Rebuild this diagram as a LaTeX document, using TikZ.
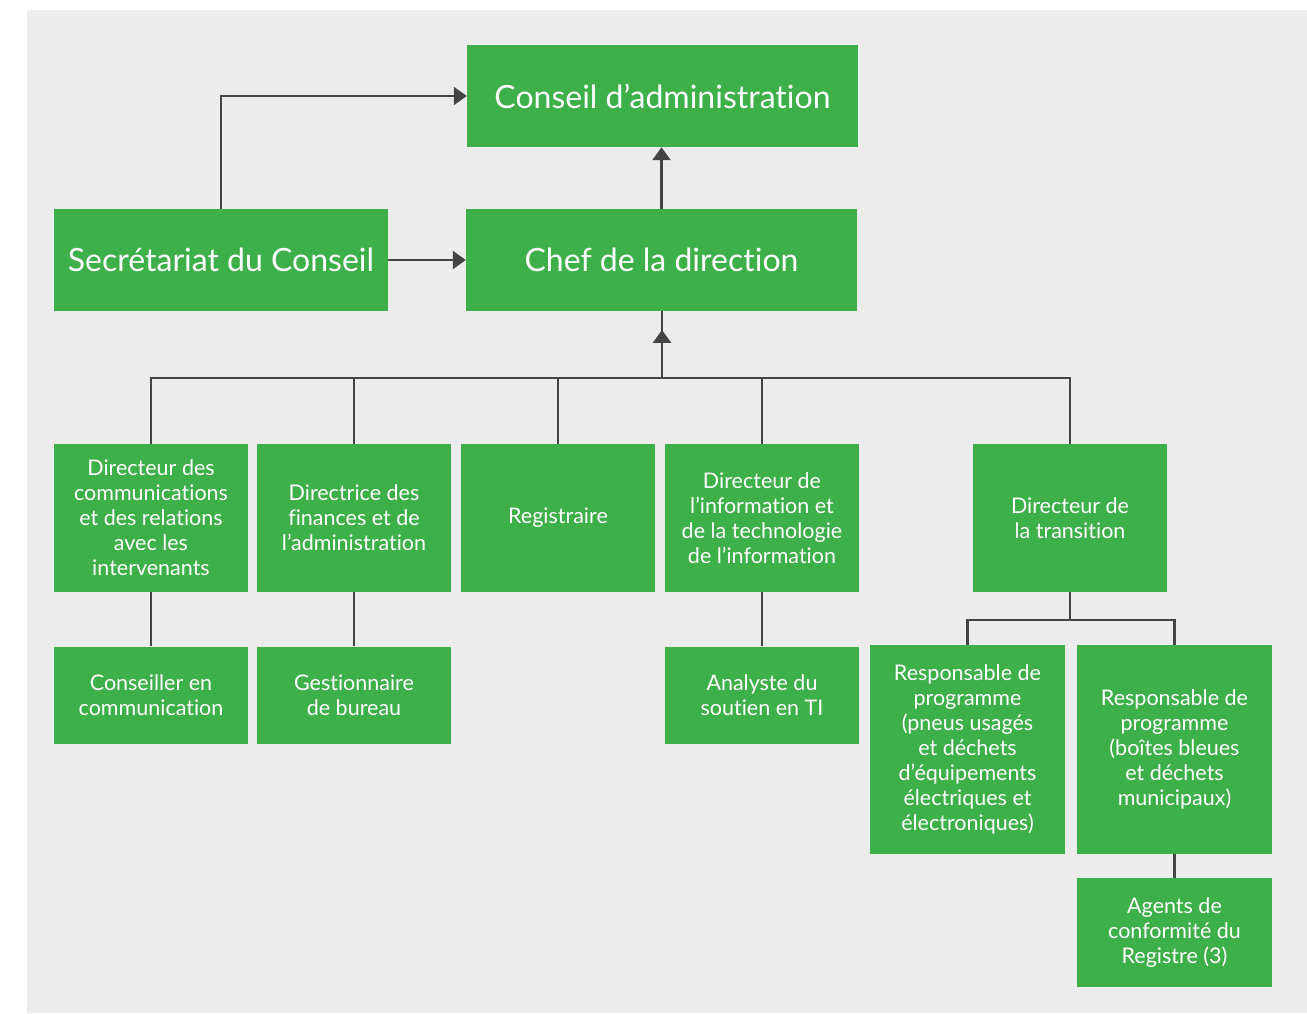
\documentclass[tikz,border=0pt]{standalone}
\usepackage{fontspec}
\setmainfont{Lato}[Ligatures={NoCommon,NoRare}]
\usetikzlibrary{arrows.meta,decorations.markings}
\definecolor{boxgreen}{HTML}{3EB049}
\definecolor{bggray}{HTML}{ECECEC}
\definecolor{linegray}{HTML}{444444}
\tikzset{
  box/.style={fill=boxgreen, text=white, inner sep=0pt, align=center,
    font=\fontsize{21.5}{25}\selectfont},
  bigbox/.style={box, font=\fontsize{32}{36}\selectfont},
  conn/.style={draw=linegray, line width=2.4pt},
  arr/.style={conn, -{Triangle[length=13pt,width=18pt]}},
  midarrow/.style={decoration={markings,
      mark=at position 0.72 with {\arrow{Triangle[length=13pt,width=18pt]}}},
    postaction=decorate},
}
\begin{document}
\begin{tikzpicture}[x=1pt,y=-1pt]
\fill[white] (0,0) rectangle (1307,1013);
\useasboundingbox (0,0) rectangle (1307,1013);
\fill[bggray] (27,10) rectangle (1307,1013);

% top level
\node[bigbox, minimum width=391pt, minimum height=102pt] (conseil) at (662.5,96) {Conseil d’administration};
\node[bigbox, minimum width=334pt, minimum height=102pt] (secr) at (221,260) {Secrétariat du Conseil};
\node[bigbox, minimum width=391pt, minimum height=102pt] (chef) at (661.5,260) {Chef de la direction};

% second level
\node[box, minimum width=194pt, minimum height=148pt] (d1) at (151,518) {Directeur des\\communications\\et des relations\\avec les\\intervenants};
\node[box, minimum width=194pt, minimum height=148pt] (d2) at (354,518) {Directrice des\\finances et de\\l’administration};
\node[box, minimum width=194pt, minimum height=148pt] (reg) at (558,518) {Registraire};
\node[box, minimum width=194pt, minimum height=148pt] (dti) at (762,518) {Directeur de\\l’information et\\de la technologie\\de l’information};
\node[box, minimum width=194pt, minimum height=148pt] (dtr) at (1070,518) {Directeur de\\la transition};

% third level
\node[box, minimum width=194pt, minimum height=97pt] (cons) at (151,695) {Conseiller en\\communication};
\node[box, minimum width=194pt, minimum height=97pt] (gest) at (354,695) {Gestionnaire\\de bureau};
\node[box, minimum width=194pt, minimum height=97pt] (anal) at (762,695) {Analyste du\\soutien en TI};
\node[box, minimum width=195pt, minimum height=209pt] (r1) at (967.5,749.5) {Responsable de\\programme\\(pneus usagés\\et déchets\\d’équipements\\électriques et\\électroniques)};
\node[box, minimum width=195pt, minimum height=209pt] (r2) at (1174.5,749.5) {Responsable de\\programme\\(boîtes bleues\\et déchets\\municipaux)};
\node[box, minimum width=195pt, minimum height=109pt] (ag) at (1174.5,932.5) {Agents de\\conformité du\\Registre (3)};

% connectors top
\draw[arr] (secr.north) |- (conseil.west);
\draw[arr] (secr.east) -- (chef.west);
\draw[arr] (chef.north) -- (chef.north |- conseil.south);

% bus
\coordinate (bus) at (662,378);
\draw[conn] (d1.north) |- (bus) -| (dtr.north);
\draw[conn] (d2.north) -- (d2.north |- bus);
\draw[conn] (reg.north) -- (reg.north |- bus);
\draw[conn] (dti.north) -- (dti.north |- bus);
\draw[conn, midarrow] (bus) -- (bus |- chef.south);

% lower connectors
\draw[conn] (d1.south) -- (cons.north);
\draw[conn] (d2.south) -- (gest.north);
\draw[conn] (dti.south) -- (anal.north);
\coordinate (split) at (1070,620);
\draw[conn] (dtr.south) -- (split);
\draw[conn] (r1.north) |- (split) -| (r2.north);
\draw[conn] (r2.south) -- (ag.north);
\end{tikzpicture}
\end{document}
